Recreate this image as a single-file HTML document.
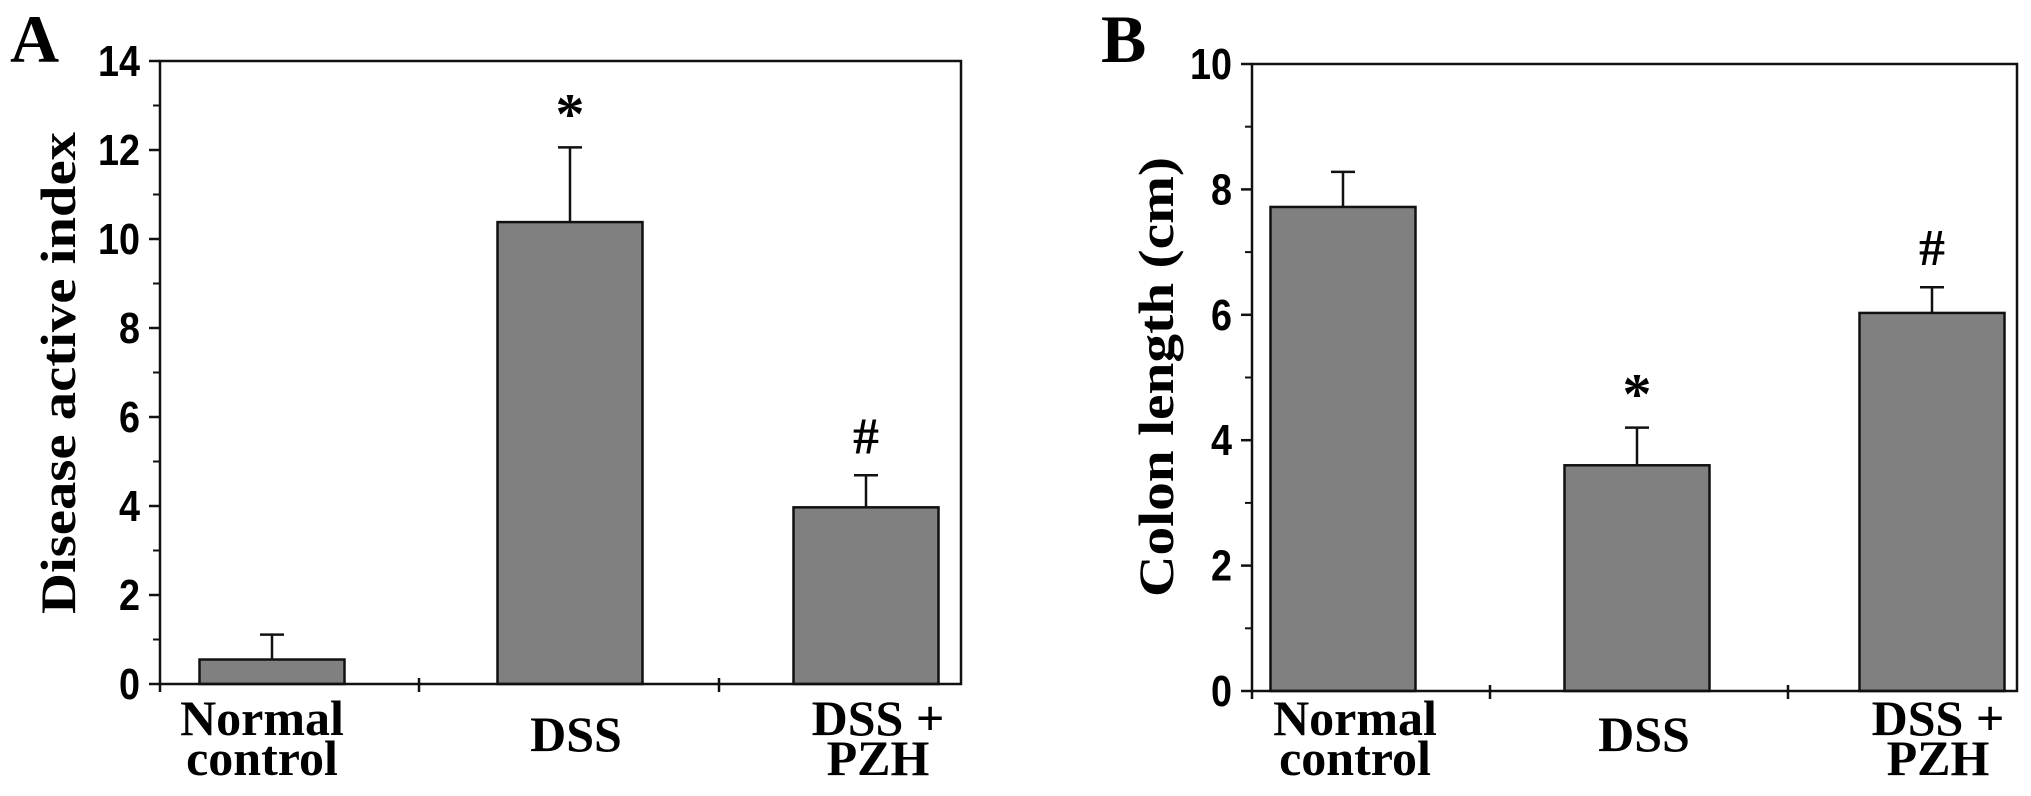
<!DOCTYPE html>
<html><head><meta charset="utf-8"><style>
html,body{margin:0;padding:0;background:#fff;}
svg{display:block;}
.tk{font-family:"Liberation Sans",sans-serif;font-weight:bold;font-size:44px;}
.tm{font-family:"Liberation Serif",serif;font-weight:bold;}
</style></head><body>
<svg id="fig" width="2031" height="796" viewBox="0 0 2031 796" xmlns="http://www.w3.org/2000/svg"></svg>
<script>
const categories = [["Normal","control"],["DSS"],["DSS +","PZH"]];
const diValues = [0.55, 10.38, 3.97];
const diErrors = [0.56, 1.68, 0.72];
const diMarks = ["", "*", "#"];
const diTicks = [0,2,4,6,8,10,12,14];
const clValues = [7.72, 3.6, 6.03];
const clErrors = [0.56, 0.6, 0.41];
const clMarks = ["", "*", "#"];
const clTicks = [0,2,4,6,8,10];

const NS="http://www.w3.org/2000/svg";
const svg=document.getElementById('fig');
function mk(tag,attrs,parent){const e=document.createElementNS(NS,tag);for(const k in attrs)e.setAttribute(k,attrs[k]);(parent||svg).appendChild(e);return e;}

function panel(cfg){
  const g=mk('g',{});
  
  
  const {x0,x1,y0,y1,max}=cfg;
  const ys=v=>y0-(v/max)*(y0-y1);
  const bw=cfg.barW;
  const xc=i=>cfg.centers[i];
  cfg.values.forEach((v,i)=>{
    const r=mk('rect',{x:xc(i)-bw/2,y:ys(v),width:bw,height:y0-ys(v),fill:'#808080',stroke:'#111','stroke-width':2.5},g);
    
    
    const top=ys(v+cfg.errors[i]);
    const e=mk('path',{d:`M${xc(i)} ${ys(v)}V${top}M${xc(i)-12} ${top}H${xc(i)+12}`,stroke:'#111','stroke-width':2.5,fill:'none'},g);
    
    
    if(cfg.marks[i]){
      const t=mk('text',{x:xc(i),y:top-(cfg.marks[i]=='*'?14:22),'text-anchor':'middle',class:'tm','font-size':cfg.marks[i]=='*'?58:52},g);
      t.textContent=cfg.marks[i];
      
      
    }
  });
  const f=mk('rect',{x:x0,y:y1,width:x1-x0,height:y0-y1,fill:'none',stroke:'#111','stroke-width':2.5},g);
  
  
  cfg.ticks.forEach((t,i)=>{
    mk('line',{x1:x0-11,x2:x0,y1:ys(t),y2:ys(t),stroke:'#111','stroke-width':2.5},g);
    const lb=mk('text',{x:x0-20,y:ys(t)+15,'text-anchor':'end',class:'tk',textLength:String(t).length*21,lengthAdjust:'spacingAndGlyphs'},g);
    lb.textContent=t;
    
    
    if(i<cfg.ticks.length-1){const m=(t+cfg.ticks[i+1])/2;mk('line',{x1:x0-7,x2:x0,y1:ys(m),y2:ys(m),stroke:'#111','stroke-width':2},g);}
  });
  cfg.sep.forEach(s=>mk('line',{x1:s,x2:s,y1:y0-6,y2:y0+8,stroke:'#111','stroke-width':2.5},g));
  mk('line',{x1:x0,x2:x0,y1:y0,y2:y0+8,stroke:'#111','stroke-width':2.5},g);
  categories.forEach((c,i)=>{
    const lines=c.length==1?[751]:[735,775];
    c.forEach((s,j)=>{
      const t=mk('text',{x:cfg.labelX[i],y:lines[j],'text-anchor':'middle',class:'tm','font-size':50},g);
      t.textContent=s;
      
      
    });
  });
  const yt=mk('text',{x:0,y:0,transform:`translate(${cfg.titleX},${cfg.titleY}) rotate(-90)`,'text-anchor':'middle',class:'tm','font-size':50,textLength:cfg.titleLen,lengthAdjust:'spacingAndGlyphs'},g);
  yt.textContent=cfg.title;
  
  
  const pl=mk('text',{x:cfg.letterX,y:62,class:'tm','font-size':68},g);
  pl.textContent=cfg.letter;
  
  
}

panel({name:'panel-a-disease-activity',x0:160,x1:961,y0:684,y1:61,max:14,barW:145,centers:[272,570,866],
  values:diValues,errors:diErrors,marks:diMarks,ticks:diTicks,sep:[419,719],labelX:[262,576,878],
  title:'Disease active index',titleX:75,titleY:373,titleLen:482,letter:'A',letterX:10});
panel({name:'panel-b-colon-length',x0:1252,x1:2017,y0:691,y1:64,max:10,barW:145,centers:[1343,1637,1932],
  values:clValues,errors:clErrors,marks:clMarks,ticks:clTicks,sep:[1490,1788],labelX:[1355,1644,1938],
  title:'Colon length (cm)',titleX:1173,titleY:377,titleLen:440,letter:'B',letterX:1101});
</script>
</body></html>
